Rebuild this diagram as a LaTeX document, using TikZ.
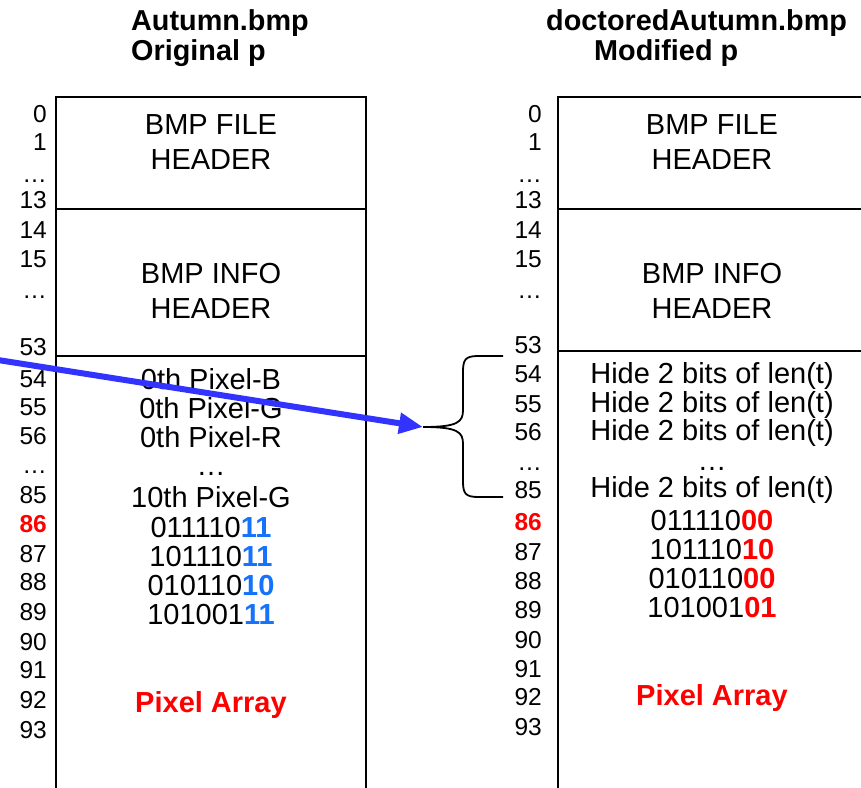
\documentclass[tikz,border=0pt]{standalone}
\usepackage{fontspec}
\setmainfont{Liberation Sans}
\usetikzlibrary{arrows.meta}
\definecolor{bitblue}{RGB}{20,115,250}
\definecolor{arrowblue}{RGB}{51,51,255}
\definecolor{hotred}{RGB}{255,0,0}
\tikzset{
  numlbl/.style={anchor=base east,inner sep=0pt,font=\fontsize{24.5}{26}\selectfont},
  bodytxt/.style={anchor=base,inner sep=0pt,font=\fontsize{29}{31}\selectfont},
  titletxt/.style={anchor=base west,inner sep=0pt,font=\fontsize{28.8}{31}\selectfont\bfseries},
  redbold/.style={anchor=base,inner sep=0pt,font=\fontsize{29}{31}\selectfont\bfseries,text=hotred},
  boxline/.style={line width=2pt,black},
}
\newcommand{\bb}[1]{\textbf{\color{bitblue}#1}}
\newcommand{\rb}[1]{\textbf{\color{hotred}#1}}
\begin{document}
\begin{tikzpicture}[x=1pt,y=-1pt]
\useasboundingbox (0,0) rectangle (861,787);
% titles
\node[titletxt] (t1) at (131,30) {Autumn.bmp};
\node[titletxt] (t2) at (131,60) {Original p};
\node[titletxt] (t3) at (546,30) {doctoredAutumn.bmp};
\node[titletxt] (t4) at (594,60) {Modified p};
% left box
\draw[boxline] (56,790) -- (56,97) -- (366,97) -- (366,790);
\draw[boxline] (56,209) -- (366,209);
\draw[boxline] (56,356) -- (366,356);
% right box
\draw[boxline] (558,790) -- (558,97) -- (864,97);
\draw[boxline] (558,209) -- (864,209);
\draw[boxline] (558,351) -- (864,351);
% left numbers
\foreach \n/\y [count=\i] in {0/122,1/150,\dots/182,13/208,14/238,15/267,\dots/298,53/355,54/387,55/415,56/444,\dots/473,85/503,87/562,88/590,89/620,90/650,91/678,92/708,93/738}
  \node[numlbl] (ln\i) at (47,\y) {\n};
\node[numlbl,text=hotred,font=\fontsize{24.5}{26}\selectfont\bfseries] (ln86) at (47,532) {86};
% right numbers
\foreach \n/\y [count=\i] in {0/122,1/150,\dots/182,13/208,14/238,15/267,\dots/298,53/353,54/382,55/412,56/440,\dots/470,85/498,87/560,88/589,89/618,90/648,91/677,92/705,93/735}
  \node[numlbl] (rn\i) at (542,\y) {\n};
\node[numlbl,text=hotred,font=\fontsize{24.5}{26}\selectfont\bfseries] (rn86) at (542,530) {86};
% left body
\node[bodytxt] (lf1) at (211,134) {BMP FILE};
\node[bodytxt] (lf2) at (211,169) {HEADER};
\node[bodytxt] (li1) at (211,283) {BMP INFO};
\node[bodytxt] (li2) at (211,318) {HEADER};
\node[bodytxt] (lp1) at (211,389) {0th Pixel-B};
\node[bodytxt] (lp2) at (211,418) {0th Pixel-G};
\node[bodytxt] (lp3) at (211,447) {0th Pixel-R};
\node[bodytxt] (lp4) at (211,475) {\dots};
\node[bodytxt] (lp5) at (211,507) {10th Pixel-G};
\node[bodytxt] (lb1) at (211,537) {011110\bb{11}};
\node[bodytxt] (lb2) at (211,566) {101110\bb{11}};
\node[bodytxt] (lb3) at (211,595) {010110\bb{10}};
\node[bodytxt] (lb4) at (211,624) {101001\bb{11}};
\node[redbold] (lpa) at (211,712) {Pixel Array};
% right body
\node[bodytxt] (rf1) at (712,134) {BMP FILE};
\node[bodytxt] (rf2) at (712,169) {HEADER};
\node[bodytxt] (ri1) at (712,283) {BMP INFO};
\node[bodytxt] (ri2) at (712,318) {HEADER};
\node[bodytxt] (rh1) at (712,383) {Hide 2 bits of len(t)};
\node[bodytxt] (rh2) at (712,412) {Hide 2 bits of len(t)};
\node[bodytxt] (rh3) at (712,440) {Hide 2 bits of len(t)};
\node[bodytxt] (rh4) at (712,470) {\dots};
\node[bodytxt] (rh5) at (712,497) {Hide 2 bits of len(t)};
\node[bodytxt] (rb1) at (712,530) {011110\rb{00}};
\node[bodytxt] (rb2) at (712,559) {101110\rb{10}};
\node[bodytxt] (rb3) at (712,588) {010110\rb{00}};
\node[bodytxt] (rb4) at (712,617) {101001\rb{01}};
\node[redbold] (rpa) at (712,705) {Pixel Array};
% brace
\coordinate (btop) at (503,356);
\coordinate (bbot) at (503,497);
\coordinate (btip) at (423,427);
\draw[line width=1.8pt,line join=round] (btop) -- (478,356) .. controls (465,356) and (463,360) .. (463,372) -- (463,410)
  .. controls (463,422) and (458,427) .. (btip);
\draw[line width=1.8pt,line join=round] (bbot) -- (478,497) .. controls (465,497) and (463,493) .. (463,481) -- (463,444)
  .. controls (463,432) and (458,427) .. (btip);
% arrow
\coordinate (astart) at (-2,360);
\draw[arrowblue,line width=6pt,-{Triangle[length=24pt,width=20pt]}] (astart) -- (btip);
\end{tikzpicture}
\end{document}
